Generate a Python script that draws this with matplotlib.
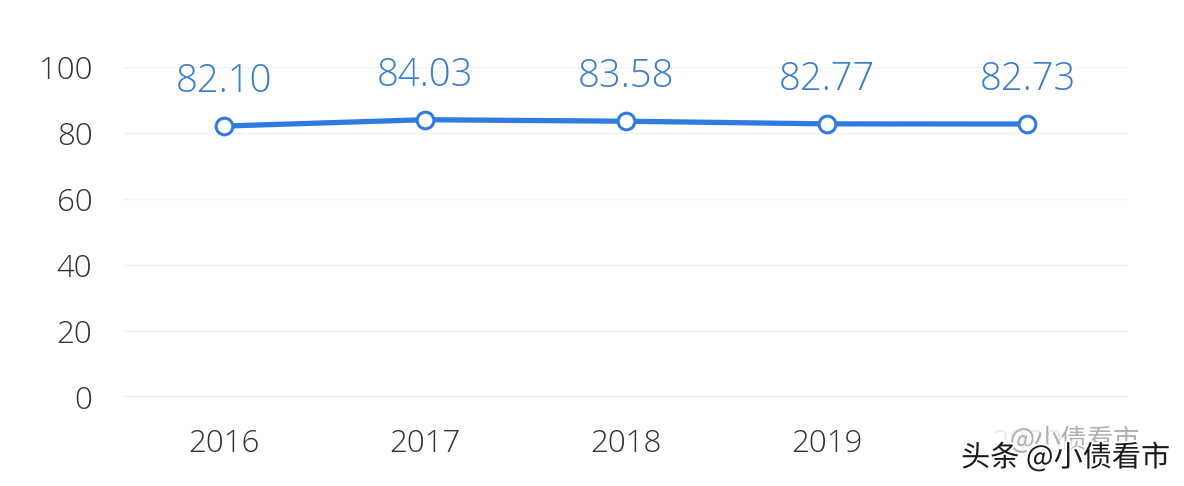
import matplotlib.pyplot as plt
import matplotlib.patheffects as pe

# data
years = ['2016', '2017', '2018', '2019', '2020']
values = [82.10, 84.03, 83.58, 82.77, 82.73]
y_ticks = [0, 20, 40, 60, 80, 100]

plt.rcParams['font.family'] = ['Open Sans', 'Noto Sans CJK SC', 'DejaVu Sans']

fig = plt.figure(figsize=(11.84, 4.86), dpi=100)
ax = fig.add_axes([0.1039, 0.1831, 0.8488, 0.679])

x = list(range(len(years)))
for t in y_ticks[1:]:
    ax.axhline(t, color='#f2f2f2', lw=1, zorder=0)
ax.axhline(0, color='#e2e2e2', lw=1.2, zorder=0)

ax.plot(x, values, color='#2f7be0', lw=3.8, marker='o', ms=12,
        mfc='white', mec='#2f7be0', mew=2.2, zorder=3, solid_capstyle='round')

for xi, v in zip(x, values):
    ax.annotate(f'{v:.2f}', (xi, v), xytext=(0, 18), textcoords='offset points',
                ha='center', va='bottom', fontsize=27.5, color='#3a7dcc',
                fontweight='light')

ax.set_xlim(-0.5, 4.5)
ax.set_ylim(0, 100)
ax.set_yticks(y_ticks)
ax.set_yticklabels([str(t) for t in y_ticks], fontweight='light')
ax.set_xticks(x)
ax.set_xticklabels(years, fontweight='light')
ax.tick_params(axis='both', length=0, labelsize=22.5, colors='#333333')
ax.tick_params(axis='y', pad=22)
ax.tick_params(axis='x', pad=22)
# 2020 label is mostly covered by the watermark in the source
ax.get_xticklabels()[-1].set_color('#e6e6e6')
for s in ax.spines.values():
    s.set_visible(False)

# watermark
fig.text(0.963, 0.095, '@小债看市', ha='right', va='center', fontsize=19,
         color='#b0b0b0', family=['Noto Sans CJK SC'])
fig.text(0.988, 0.057, '头条 @小债看市', ha='right', va='center', fontsize=21,
         color='#1a1a1a', family=['Noto Sans CJK SC'],
         path_effects=[pe.withStroke(linewidth=3, foreground='white')])

fig.savefig('out.png', dpi=100, facecolor='white')
